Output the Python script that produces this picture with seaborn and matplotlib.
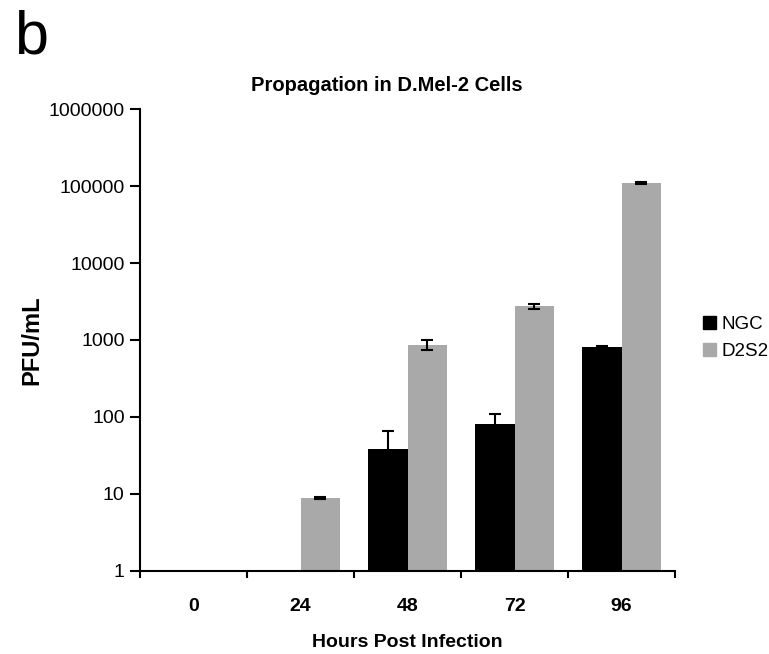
import numpy as np
import pandas as pd
import matplotlib
matplotlib.use('Agg')
import matplotlib.pyplot as plt
import seaborn as sns

# Data (PFU/mL, log scale)
hours = ['0', '24', '48', '72', '96']
strains = ['NGC', 'D2S2']
ngc_pfu = [np.nan, np.nan, 38, 81, 818]
ngc_err = [np.nan, np.nan, 28, 28, 20]
d2s2_pfu = [np.nan, 8.8, 870, 2750, 111000]
d2s2_err = [np.nan, 0.2, 120, 200, 3000]
colors = ['#000000', '#a9a9a9']

rows = []
for strain, vals, errs in [('NGC', ngc_pfu, ngc_err), ('D2S2', d2s2_pfu, d2s2_err)]:
    for h, v, e in zip(hours, vals, errs):
        rows.append({'Hours': h, 'Strain': strain, 'PFU': v, 'Err': e})
df = pd.DataFrame(rows).dropna(subset=['PFU'])

sns.set_style('white')
plt.rcParams['font.family'] = ['Liberation Sans', 'DejaVu Sans']
plt.rcParams['text.color'] = 'black'
plt.rcParams['axes.labelcolor'] = 'black'
plt.rcParams['xtick.color'] = 'black'
plt.rcParams['ytick.color'] = 'black'

fig = plt.figure(figsize=(7.69, 6.54), dpi=100)
ax = fig.add_axes([0.182, 0.1274, 0.696, 0.7055])

sns.barplot(data=df, x='Hours', y='PFU', hue='Strain', order=hours,
            hue_order=strains, palette=colors, width=0.74, saturation=1,
            errorbar=None, ax=ax, legend=False, linewidth=0)
ax.set_yscale('log')

# error bars on top of each drawn bar
for container, strain in zip(ax.containers, strains):
    sub = df[df['Strain'] == strain]
    for bar, (_, row) in zip(container, sub.iterrows()):
        xc = bar.get_x() + bar.get_width() / 2
        ax.errorbar(xc, row['PFU'], yerr=row['Err'], color='black',
                    capsize=4, elinewidth=1.5, capthick=1.5, fmt='none')

ax.set_ylim(1, 1e6)
ax.set_xlim(-0.5, len(hours) - 0.5)
ax.set_yticks([10 ** k for k in range(7)])
ax.set_yticklabels([str(10 ** k) for k in range(7)], fontsize=14)
ax.yaxis.set_minor_locator(matplotlib.ticker.NullLocator())
ax.set_xticks(range(len(hours)))
ax.set_xticklabels(hours, fontsize=14, fontweight='bold')
ax.set_xticks(np.arange(len(hours) + 1) - 0.5, minor=True)
ax.tick_params(axis='x', which='major', length=0, pad=20)
ax.tick_params(axis='x', which='minor', length=5, width=1.5, direction='out', bottom=True)
ax.tick_params(axis='y', which='major', length=7, width=1.5, direction='out', left=True, pad=4)

for s in ['top', 'right']:
    ax.spines[s].set_visible(False)
for s in ['left', 'bottom']:
    ax.spines[s].set_color('black')
    ax.spines[s].set_linewidth(1.5)

ax.set_xlabel('Hours Post Infection', fontsize=14, fontweight='bold', labelpad=13)
ax.set_ylabel('PFU/mL', fontsize=17, fontweight='bold', labelpad=4)

fig.text(0.503, 0.869, 'Propagation in D.Mel-2 Cells', ha='center', va='center',
         fontsize=14.5, fontweight='bold')
fig.text(0.018, 0.985, 'b', ha='left', va='top', fontsize=44)

handles = [plt.Rectangle((0, 0), 1, 1, color=c) for c in colors]
fig.legend(handles, strains, loc='center left', bbox_to_anchor=(0.892, 0.483),
           frameon=False, fontsize=13.5, handlelength=0.7, handleheight=0.7,
           handletextpad=0.3, labelspacing=0.55)

fig.savefig('out.png', dpi=100)
